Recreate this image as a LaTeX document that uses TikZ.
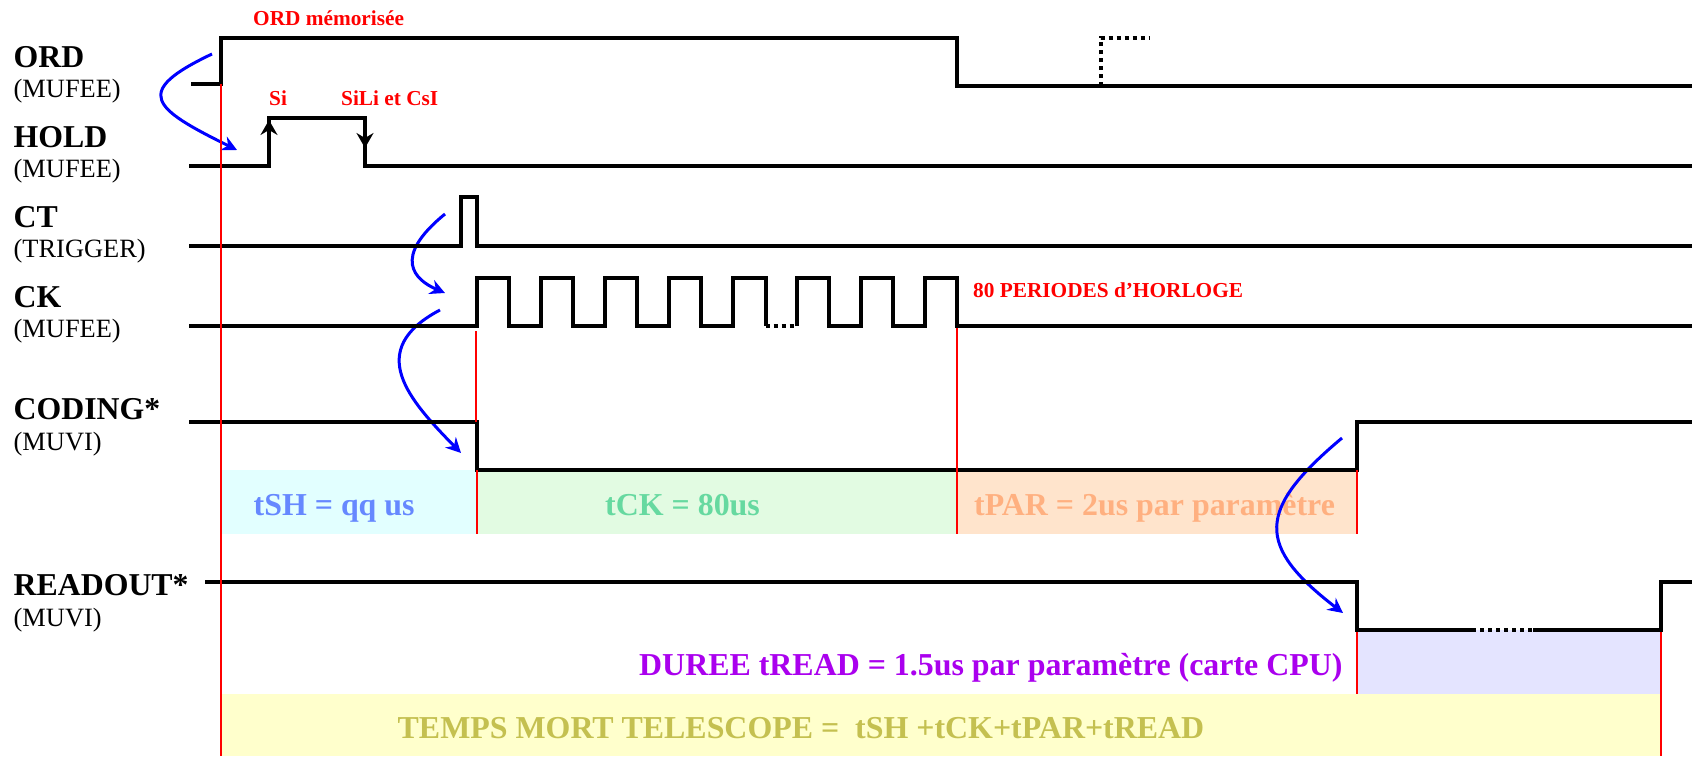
\documentclass[tikz,border=0pt]{standalone}
\usepackage{fontspec}
\setmainfont{Liberation Serif}
\usepackage{tikz}
\usetikzlibrary{arrows.meta}

\definecolor{shfill}{HTML}{E2FFFF}
\definecolor{ckfill}{HTML}{E2FBE2}
\definecolor{parfill}{HTML}{FFE4CC}
\definecolor{readfill}{HTML}{E4E4FF}
\definecolor{mortfill}{HTML}{FFFFCC}
\definecolor{shtext}{HTML}{6688FF}
\definecolor{cktext}{HTML}{66D9A0}
\definecolor{partext}{HTML}{FFB080}
\definecolor{readtext}{HTML}{AA00EE}
\definecolor{morttext}{HTML}{C4C050}

\tikzset{
    signal/.style={line width=4pt, black},
    dotsignal/.style={line width=4pt, black, dash pattern=on 4pt off 4pt},
    mark main/.style={line width=2pt, red},
    mark thin/.style={line width=1.3pt, red},
    causal/.style={line width=3pt, blue, -{Stealth[length=15pt, width=15pt, inset=5pt]}},
    edge tip/.style={line width=2pt, black, -{Stealth[length=15pt, width=17pt, inset=5pt]}},
    name big/.style={anchor=base west, inner sep=0, font=\fontsize{31.8}{33}\selectfont\bfseries},
    name small/.style={anchor=base west, inner sep=0, font=\fontsize{26.4}{28}\selectfont},
    note/.style={anchor=base west, inner sep=0, text=red, font=\fontsize{21.3}{22}\selectfont\bfseries},
    time/.style={anchor=base west, inner sep=0, font=\fontsize{31.9}{33}\selectfont\bfseries}
}

\begin{document}
\begin{tikzpicture}[x=1pt, y=-1pt]
    \useasboundingbox (0,0) rectangle (1698,756);
    % Zones
    \fill[shfill] (221,470) rectangle (477,534);
    \fill[ckfill] (477,470) rectangle (957,534);
    \fill[parfill] (957,470) rectangle (1357,534);
    \fill[readfill] (1357,630) rectangle (1661,694);
    \fill[mortfill] (221,694) rectangle (1661,756);
    % Signal names
    \node[name big] (ord) at (13.5,67) {ORD};
    \node[name small] (ordsrc) at (13.5,97) {(MUFEE)};
    \node[name big] (hold) at (13.5,147) {HOLD};
    \node[name small] (holdsrc) at (13.5,177) {(MUFEE)};
    \node[name big] (ct) at (13.5,227) {CT};
    \node[name small] (ctsrc) at (13.5,257) {(TRIGGER)};
    \node[name big] (ck) at (13.5,307) {CK};
    \node[name small] (cksrc) at (13.5,337) {(MUFEE)};
    \node[name big] (coding) at (13.5,419) {CODING*};
    \node[name small] (codingsrc) at (13.5,450) {(MUVI)};
    \node[name big] (readout) at (13.5,595) {READOUT*};
    \node[name small] (readoutsrc) at (13.5,626) {(MUVI)};
    % Red notes
    \node[note] (memo) at (253,25) {ORD mémorisée};
    \node[note] (si) at (269,105) {Si};
    \node[note] (sili) at (341,105) {SiLi et CsI};
    \node[note] (periodes) at (973,297) {80 PERIODES d’HORLOGE};
    % Durations
    \node[time, text=shtext] (tsh) at (253.5,515.5) {tSH = qq us};
    \node[time, text=cktext] (tck) at (605,515.5) {tCK = 80us};
    \node[time, text=partext] (tpar) at (974,515.5) {tPAR = 2us par paramètre};
    \node[time, text=readtext] (tread) at (639,675) {DUREE tREAD = 1.5us par paramètre (carte CPU)};
    \node[time, text=morttext] (tmort) at (397.5,738) {TEMPS MORT TELESCOPE =\ \ tSH +tCK+tPAR+tREAD};
    % Blue arrows
    \draw[causal] (212,54) .. controls (132,92) and (152,108) .. (237,150);
    \draw[causal] (445,214) .. controls (391,258) and (415,280) .. (445,293);
    \draw[causal] (440,310) .. controls (364,350) and (409,400) .. (461,453);
    \draw[causal] (1342,438) .. controls (1256,510) and (1256,546) .. (1343,613);
    % Signals
    \draw[signal] (191,84) -- (221,84) -- (221,38) -- (957,38) -- (957,86) -- (1692,86);
    \draw[dotsignal] (1100.5,86) -- (1100.5,38) -- (1149,38);
    \draw[signal] (189,166) -- (269,166) -- (269,118) -- (365,118) -- (365,166) -- (1692,166);
    \draw[edge tip] (269,140) -- (269,120);
    \draw[edge tip] (365,126) -- (365,148);
    \draw[signal] (189,246) -- (461,246) -- (461,197) -- (477,197) -- (477,246) -- (1692,246);
    \draw[signal] (189,326) -- (477,326) -- (477,278) -- (509,278) -- (509,326) -- (540.5,326) -- (540.5,278) -- (573,278) -- (573,326)
        -- (604.5,326) -- (604.5,278) -- (637,278) -- (637,326) -- (668.5,326) -- (668.5,278) -- (701,278) -- (701,326) -- (733,326)
        -- (733,278) -- (765.5,278) -- (765.5,326);
    \draw[dotsignal] (765.5,326) -- (796.5,326);
    \draw[signal] (796.5,326) -- (796.5,278) -- (828.5,278) -- (828.5,326) -- (860.5,326) -- (860.5,278) -- (893,278) -- (893,326)
        -- (925,326) -- (925,278) -- (957,278) -- (957,326) -- (1692,326);
    \draw[signal] (189,422) -- (477,422) -- (477,469.5) -- (1357,469.5) -- (1357,422) -- (1692,422);
    \draw[signal] (205,582) -- (1357,582) -- (1357,630) -- (1472,630);
    \draw[dotsignal] (1472,630) -- (1533,630);
    \draw[signal] (1533,630) -- (1661,630) -- (1661,582) -- (1692,582);
    % Red markers
    \draw[mark main] (221,84) -- (221,756);
    \draw[mark thin] (476,331) -- (476,422);
    \draw[mark thin] (477,470) -- (477,534);
    \draw[mark thin] (957,328) -- (957,534);
    \draw[mark thin] (1357,470) -- (1357,534);
    \draw[mark main] (1357,632) -- (1357,694);
    \draw[mark thin] (1661,632) -- (1661,756);
\end{tikzpicture}
\end{document}
